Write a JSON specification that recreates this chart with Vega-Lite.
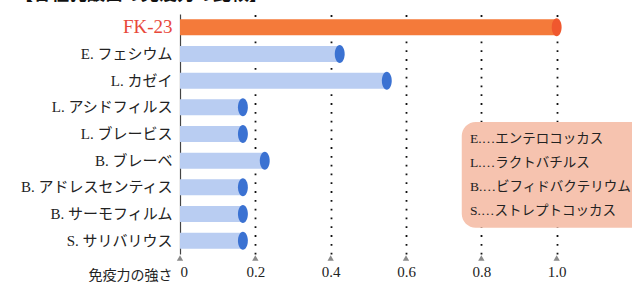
{
  "$schema": "https://vega.github.io/schema/vega-lite/v6.json",
  "width": 452,
  "height": 240,
  "autosize": {"type": "none"},
  "padding": {"left": 180, "top": 14, "right": 0, "bottom": 30},
  "background": "white",
  "config": {
    "view": {"stroke": null},
    "font": "Liberation Serif, Noto Sans CJK JP",
    "axis": {"labelFont": "Liberation Serif, Noto Sans CJK JP", "titleFont": "Liberation Serif, Noto Sans CJK JP"}
  },
  "title": {
    "text": "【各種乳酸菌の免疫力の比較】",
    "anchor": "start",
    "frame": "group",
    "dx": -165,
    "offset": -8,
    "baseline": "bottom",
    "fontSize": 18,
    "fontWeight": "bold",
    "color": "#111"
  },
  "datasets": {
    "strains": [
      {"name": "FK-23", "v": 1.0, "kind": "fk"},
      {"name": "E. フェシウム", "v": 0.424, "kind": "other"},
      {"name": "L. カゼイ", "v": 0.549, "kind": "other"},
      {"name": "L. アシドフィルス", "v": 0.167, "kind": "other"},
      {"name": "L. ブレービス", "v": 0.167, "kind": "other"},
      {"name": "B. ブレーベ", "v": 0.225, "kind": "other"},
      {"name": "B. アドレスセンティス", "v": 0.167, "kind": "other"},
      {"name": "B. サーモフィルム", "v": 0.167, "kind": "other"},
      {"name": "S. サリバリウス", "v": 0.167, "kind": "other"}
    ],
    "box": [{"x1": 0.748, "x2": 1.26, "r1": 4.05, "r2": 8.02}],
    "notes": [
      {"line": "E.…エンテロコッカス", "x": 0.77, "row": 4.68},
      {"line": "L.…ラクトバチルス", "x": 0.77, "row": 5.58},
      {"line": "B.…ビフィドバクテリウム", "x": 0.77, "row": 6.48},
      {"line": "S.…ストレプトコッカス", "x": 0.77, "row": 7.38}
    ],
    "ticks": [{"t": 0}, {"t": 0.2}, {"t": 0.4}, {"t": 0.6}, {"t": 0.8}, {"t": 1.0}]
  },
  "layer": [
    {
      "data": {"name": "strains"},
      "encoding": {
        "y": {
          "field": "name",
          "type": "nominal",
          "sort": null,
          "scale": {"paddingInner": 0, "paddingOuter": 0},
          "axis": {
            "title": null,
            "ticks": false,
            "domain": true,
            "domainColor": "#444",
            "domainWidth": 1.2,
            "labelFontSize": {"condition": {"test": "datum.value == 'FK-23'", "value": 19}, "value": 15},
            "labelPadding": 8,
            "labelLimit": 220,
            "labelColor": {"condition": {"test": "datum.value == 'FK-23'", "value": "#e8483a"}, "value": "#222"}
          }
        }
      },
      "layer": [
        {
          "mark": {"type": "bar", "height": 16},
          "encoding": {
            "x": {
              "field": "v",
              "type": "quantitative",
              "scale": {"domain": [0, 1.2], "nice": false, "zero": true},
              "axis": {
                "values": [0, 0.2, 0.4, 0.6, 0.8, 1.0],
                "labelExpr": "datum.value == 0 ? '0' : format(datum.value, '.1f')",
                "ticks": false,
                "domain": false,
                "grid": true,
                "gridColor": "#111",
                "gridWidth": 1.8,
                "gridDash": [1.8, 7],
                "gridOpacity": {"condition": {"test": "datum.value == 0", "value": 0}, "value": 1},
                "labelFontSize": 15,
                "labelColor": "#222",
                "labelPadding": 10,
                "title": "免疫力の強さ",
                "titleFontSize": 14,
                "titleFontWeight": "normal",
                "titleColor": "#222",
                "titleX": -8,
                "titleY": 25,
                "titleAlign": "right",
                "titleBaseline": "alphabetic"
              }
            },
            "color": {"condition": {"test": "datum.kind == 'fk'", "value": "#f47a3a"}, "value": "#b9cdf2"}
          }
        },
        {
          "mark": {
            "type": "point",
            "shape": "M0,-1A0.55,1 0 1,1 0,1A0.55,1 0 1,1 0,-1Z",
            "filled": true,
            "opacity": 1,
            "size": 324
          },
          "encoding": {
            "x": {"field": "v", "type": "quantitative"},
            "color": {"condition": {"test": "datum.kind == 'fk'", "value": "#f0582e"}, "value": "#3b72d2"}
          }
        }
      ]
    },
    {
      "layer": [
        {
          "data": {"name": "box"},
          "mark": {"type": "rect", "cornerRadius": 14, "color": "#f6c3af"},
          "encoding": {
            "x": {"field": "x1", "type": "quantitative"},
            "x2": {"field": "x2"},
            "y": {"field": "r1", "type": "quantitative", "scale": {"domain": [0, 9], "reverse": true, "nice": false, "zero": false}, "axis": null},
            "y2": {"field": "r2"}
          }
        },
        {
          "data": {"name": "notes"},
          "mark": {"type": "text", "align": "left", "baseline": "middle", "fontSize": 13.5, "color": "#222", "font": "Liberation Serif, Noto Sans CJK JP"},
          "encoding": {
            "x": {"field": "x", "type": "quantitative"},
            "y": {"field": "row", "type": "quantitative"},
            "text": {"field": "line"}
          }
        },
        {
          "data": {"name": "ticks"},
          "mark": {"type": "point", "shape": "triangle-up", "filled": true, "opacity": 1, "size": 40, "color": "#8a8a8a"},
          "encoding": {
            "x": {"field": "t", "type": "quantitative"},
            "y": {"datum": 9.15, "type": "quantitative"}
          }
        }
      ]
    }
  ],
  "resolve": {"scale": {"y": "independent"}}
}
